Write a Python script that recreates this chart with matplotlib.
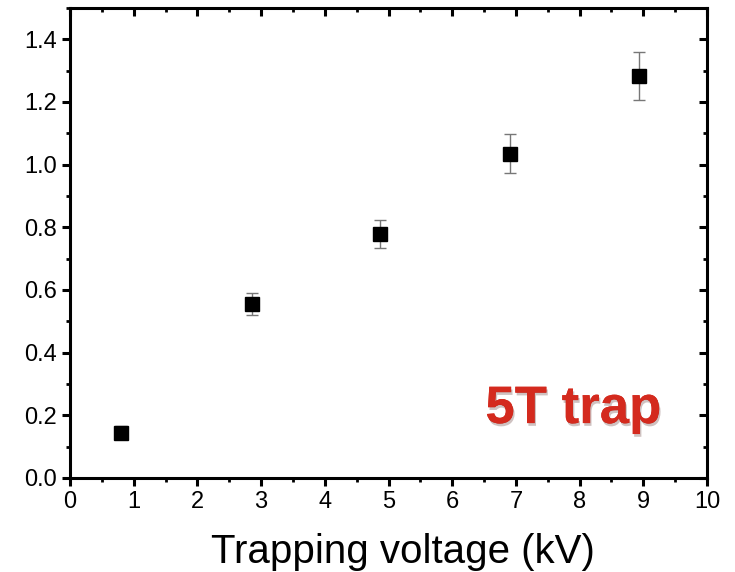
import matplotlib.pyplot as plt
import matplotlib.patheffects as pe
from matplotlib.ticker import MultipleLocator

# Data
voltage = [0.80, 2.85, 4.87, 6.90, 8.93]
signal = [0.145, 0.555, 0.778, 1.035, 1.283]
error = [0.022, 0.036, 0.045, 0.062, 0.076]

plt.rcParams.update({"font.family": ["Liberation Sans", "DejaVu Sans"]})
fig = plt.figure(figsize=(7.35, 5.72), dpi=100)
ax = fig.add_axes([70 / 735, 1 - 478 / 572, 637 / 735, 470 / 572])

ax.errorbar(voltage, signal, yerr=error, fmt="s", color="black", markersize=10,
            ecolor="#777777", elinewidth=1, capsize=4, capthick=1)

ax.set_xlim(0, 10)
ax.set_ylim(0, 1.5)
ax.xaxis.set_major_locator(MultipleLocator(1))
ax.xaxis.set_minor_locator(MultipleLocator(0.5))
ax.yaxis.set_minor_locator(MultipleLocator(0.1))
ax.set_yticks([0, 0.2, 0.4, 0.6, 0.8, 1.0, 1.2, 1.4])
ax.set_yticklabels(["0.0", "0.2", "0.4", "0.6", "0.8", "1.0", "1.2", "1.4"])

for s in ax.spines.values():
    s.set_linewidth(2.2)
ax.tick_params(which="major", direction="out", length=6, width=2.2, labelsize=17)
ax.tick_params(which="minor", direction="out", length=3, width=2)
# top and right ticks point inward
ax.tick_params(axis="x", which="both", top=True)
ax.tick_params(axis="y", which="both", right=True)
for t in ax.xaxis.get_major_ticks() + ax.xaxis.get_minor_ticks():
    t.tick2line.set_marker(3)
for t in ax.yaxis.get_major_ticks() + ax.yaxis.get_minor_ticks():
    t.tick2line.set_marker(0)

ax.set_xlabel("Trapping voltage (kV)", fontsize=29)
ax.xaxis.set_label_coords(0.522, -0.118)

ax.text(7.9, 0.22, "5T trap", color="#d42a1e", fontsize=38, fontweight="bold",
        ha="center", va="center",
        path_effects=[pe.withStroke(linewidth=7, foreground="white"),
                      pe.SimplePatchShadow(offset=(1, -2), alpha=0.25), pe.Normal()])

plt.savefig("out.png", dpi=100)
